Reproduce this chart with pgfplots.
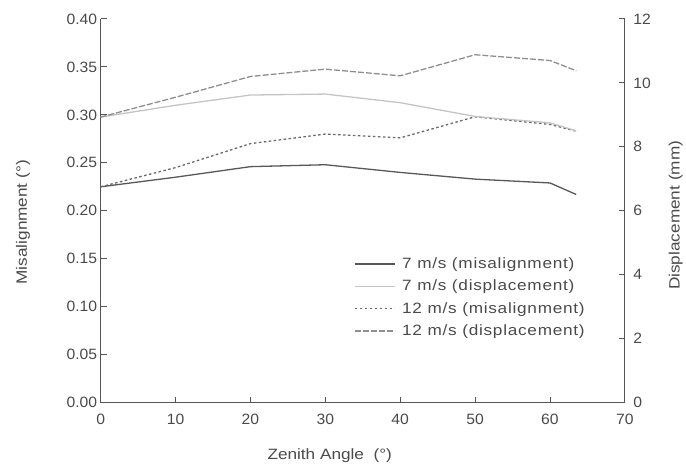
\documentclass[border=0pt]{standalone}
\usepackage{fontspec}
\setmainfont[FakeStretch=1.05]{Liberation Sans}
\newfontfamily\labfont[FakeStretch=1.15]{Liberation Sans}
\newfontfamily\legfont[FakeStretch=1.15, LetterSpace=5]{Liberation Sans}
\usepackage{pgfplots}
\pgfplotsset{compat=1.18}
\definecolor{axisgray}{HTML}{555555}
\definecolor{textgray}{HTML}{4A4A4A}
\definecolor{sevmis}{HTML}{585858}
\definecolor{sevdis}{HTML}{C4C4C4}
\definecolor{twmis}{HTML}{686868}
\definecolor{twdis}{HTML}{8E8E8E}
\begin{document}
\begin{tikzpicture}
\pgfplotsset{
  common/.style={
    scale only axis, width=526pt, height=385pt,
    xmin=0, xmax=70,
    tick align=inside, major tick length=6pt,
    axis line style={axisgray, line width=1pt},
    tick style={axisgray, line width=0.9pt},
    every tick label/.append style={font=\fontsize{15}{17}\selectfont, text=textgray},
    label style={font=\labfont\fontsize{15}{17}\selectfont, text=textgray},
    /pgf/number format/assume math mode=true,
  }
}
\begin{axis}[common,
  axis x line*=bottom, axis y line*=left,
  ymin=0, ymax=0.40,
  ytick={0,0.05,0.10,0.15,0.20,0.25,0.30,0.35,0.40},
  yticklabel style={/pgf/number format/.cd, fixed, fixed zerofill, precision=2},
  xtick={0,10,20,30,40,50,60,70},
  xticklabel style={yshift=-8pt},
  xlabel={Zenith Angle\ \ (°)},
  ylabel={Misalignment (°)},
  xlabel style={at={(axis description cs:0.437,-0.137)}, anchor=center},
  ylabel style={at={(axis description cs:-0.148,0.47)}, anchor=center, rotate=0},
]
\addplot[sevmis, line width=1.3pt] coordinates {
 (0,0.225) (10,0.235) (20,0.246) (30,0.248) (40,0.240) (50,0.233) (60,0.229) (63.5,0.217)};
\addplot[twmis, line width=1.3pt, dash pattern=on 2.5pt off 2.5pt] coordinates {
 (0,0.225) (10,0.245) (20,0.270) (30,0.280) (40,0.276) (50,0.298) (60,0.290) (63.5,0.283)};
\end{axis}
\begin{axis}[common,
  axis x line=none, axis y line*=right,
  ymin=0, ymax=12,
  ytick={0,2,4,6,8,10,12},
  yticklabel style={xshift=5pt},
  ylabel={Displacement (mm)},
  ylabel style={at={(axis description cs:1.097,0.488)}, anchor=center, rotate=0},
  legend cell align=left,
  legend style={draw=none, fill=none, at={(rel axis cs:0.483,0.383)}, anchor=north west,
    font=\legfont\fontsize{15}{17}\selectfont, text=textgray, row sep=6pt, inner sep=0pt,
    /tikz/every odd column/.append style={column sep=5pt}},
  legend image code/.code={\draw[#1] (0pt,0pt) -- (40pt,0pt);},
]
\addlegendimage{sevmis, line width=1.3pt}
\addlegendentry{7 m/s (misalignment)}
\addplot[sevdis, line width=1.3pt] coordinates {
 (0,8.93) (10,9.3) (20,9.62) (30,9.65) (40,9.38) (50,8.95) (60,8.75) (63.5,8.5)};
\addlegendentry{7 m/s (displacement)}
\addlegendimage{twmis, line width=1.3pt, dash pattern=on 2.5pt off 2.5pt}
\addlegendentry{12 m/s (misalignment)}
\addplot[twdis, line width=1.3pt, dash pattern=on 6pt off 2pt] coordinates {
 (0,8.93) (10,9.55) (20,10.2) (30,10.43) (40,10.22) (50,10.88) (60,10.7) (63.5,10.38)};
\addlegendentry{12 m/s (displacement)}
\end{axis}
\useasboundingbox (-101pt,-64pt) rectangle (585pt,404pt);
\end{tikzpicture}
\end{document}
